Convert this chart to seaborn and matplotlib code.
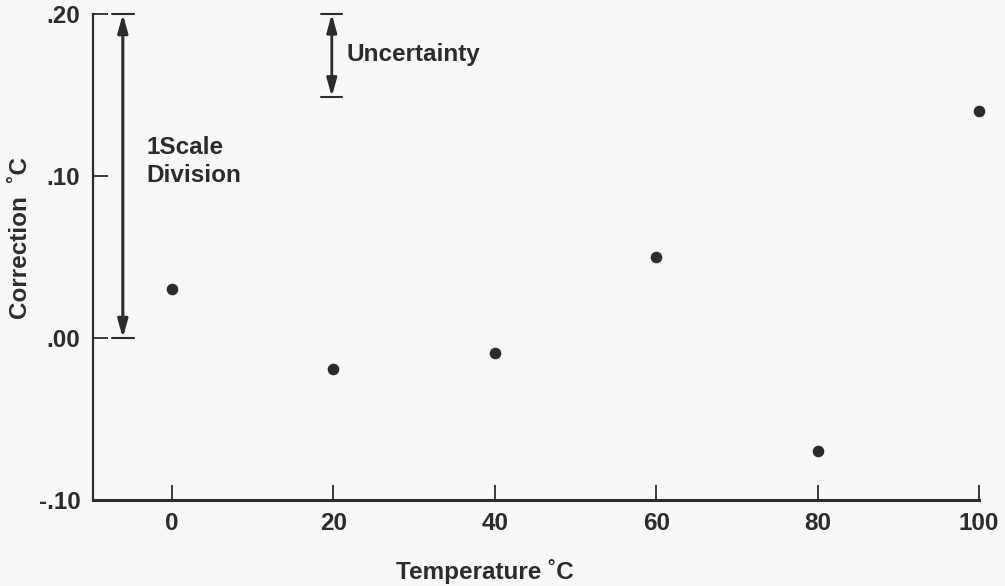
import matplotlib
matplotlib.use("Agg")
import matplotlib.pyplot as plt
import seaborn as sns
import pandas as pd

temperature = [0, 20, 40, 60, 80, 100]
correction = [0.03, -0.019, -0.009, 0.05, -0.07, 0.14]
x_ticks = [0, 20, 40, 60, 80, 100]
y_ticks = [-0.10, 0.00, 0.10, 0.20]
y_tick_labels = ["-.10", ".00", ".10", ".20"]

sns.set_theme(style="white")
plt.rcParams['font.family'] = ['Liberation Sans', 'DejaVu Sans']
plt.rcParams['font.weight'] = 'bold'

ink = "#2e2a2e"
bg = "#f8f8f8"
fs = 17.5

fig = plt.figure(figsize=(10.05, 5.86), dpi=100, facecolor=bg)
ax = fig.add_axes([0.0925, 0.1468, 0.974 - 0.0925, 0.976 - 0.1468])
ax.set_facecolor(bg)

df = pd.DataFrame({"Temperature": temperature, "Correction": correction})
sns.scatterplot(data=df, x="Temperature", y="Correction", ax=ax, color=ink,
                s=70, edgecolor=ink, linewidth=0, clip_on=False, zorder=5)

ax.set_xlim(-9.8, 100)
ax.set_ylim(-0.10, 0.20)
ax.set_xticks(x_ticks)
ax.set_xticklabels([str(v) for v in x_ticks])
ax.set_yticks(y_ticks)
ax.set_yticklabels(y_tick_labels)

for side in ["top", "right"]:
    ax.spines[side].set_visible(False)
for side in ["left", "bottom"]:
    ax.spines[side].set_color(ink)
    ax.spines[side].set_linewidth(1.6)
ax.spines["bottom"].set_linewidth(2.2)

ax.tick_params(axis="both", which="major", bottom=True, left=True,
               direction="in", length=11, width=1.3, color=ink,
               labelsize=fs, labelcolor=ink)
ax.tick_params(axis="y", pad=9)
ax.tick_params(axis="x", pad=9)
for lbl in ax.get_xticklabels() + ax.get_yticklabels():
    lbl.set_fontweight("bold")

ax.set_xlabel("Temperature ˚C", fontsize=fs, fontweight="bold", color=ink)
ax.set_ylabel("Correction  ˚C", fontsize=fs, fontweight="bold", color=ink)
ax.xaxis.set_label_coords(0.442, -0.148)
ax.xaxis.label.set_va("center")
ax.yaxis.set_label_coords(-0.0815, 0.539)
ax.yaxis.label.set_va("center")
ax.yaxis.label.set_ha("center")

# 1 scale division arrow
sx = -6.1
ax.annotate("", xy=(sx, 0.20), xytext=(sx, 0.00),
            arrowprops=dict(arrowstyle="<|-|>,head_length=0.9,head_width=0.25",
                            color=ink, lw=2.2, shrinkA=0, shrinkB=0))
for yv in [0.20, 0.00]:
    ax.plot([sx - 1.3, sx + 1.4], [yv, yv], color=ink, lw=1.5, clip_on=False)
ax.text(-3.2, 0.109, "1Scale\nDivision", fontsize=fs, fontweight="bold", color=ink,
        ha="left", va="center", linespacing=1.25)

# uncertainty arrow
ux = 19.8
ax.annotate("", xy=(ux, 0.20), xytext=(ux, 0.149),
            arrowprops=dict(arrowstyle="<|-|>,head_length=0.9,head_width=0.25",
                            color=ink, lw=2.0, shrinkA=0, shrinkB=0))
for yv in [0.20, 0.149]:
    ax.plot([ux - 1.3, ux + 1.3], [yv, yv], color=ink, lw=1.5, clip_on=False)
ax.text(21.6, 0.175, "Uncertainty", fontsize=fs, fontweight="bold", color=ink,
        ha="left", va="center")

fig.savefig("out.png", dpi=100, facecolor=bg)
